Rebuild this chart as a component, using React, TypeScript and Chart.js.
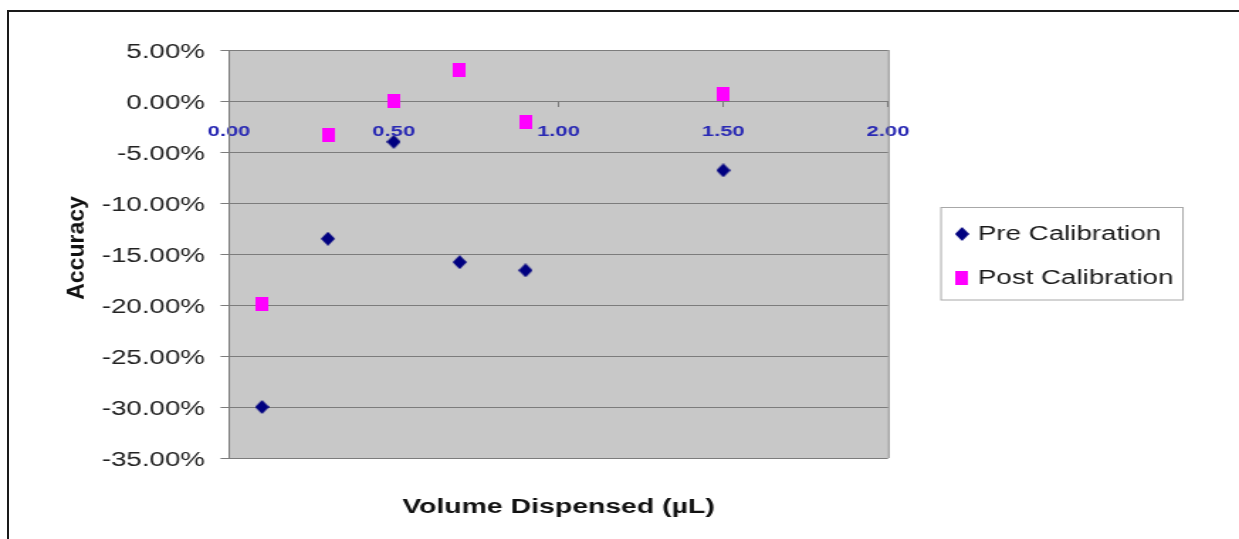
import React, { useEffect, useRef } from 'react';
import { Chart, registerables } from 'chart.js';

Chart.register(...registerables);

// ---- data ----
const volumes = [0.1, 0.3, 0.5, 0.7, 0.9, 1.5];
const preCalibration = [-30.0, -13.5, -4.0, -15.8, -16.6, -6.8];
const postCalibration = [-19.9, -3.3, 0.0, 3.0, -2.1, 0.7];
const seriesLabels = ['Pre Calibration', 'Post Calibration'];
const yRange = [-35, 5];
const yStep = 5;
const xRange = [0, 2];
const xStep = 0.5;
const xTitle = 'Volume Dispensed (µL)';
const yTitle = 'Accuracy';

// ---- layout / style ----
const PAGE_W = 1239;
const PAGE_H = 539;
const LOGICAL_W = 873;
const SX = PAGE_W / LOGICAL_W;
const FONT = '"Liberation Sans", Arial, Helvetica, sans-serif';
const PRE_COLOR = '#000080';
const POST_COLOR = '#ff00ff';
const GRID = '#7c7c7c';
const PLOT_BG = '#c8c8c8';

function makeMarker(kind: 'diamond' | 'square', color: string): HTMLCanvasElement {
  const c = document.createElement('canvas');
  if (kind === 'diamond') {
    c.width = 10;
    c.height = 14;
    const ctx = c.getContext('2d')!;
    ctx.fillStyle = color;
    ctx.beginPath();
    ctx.moveTo(5, 0);
    ctx.lineTo(10, 7);
    ctx.lineTo(5, 14);
    ctx.lineTo(0, 7);
    ctx.closePath();
    ctx.fill();
  } else {
    c.width = 9;
    c.height = 14;
    const ctx = c.getContext('2d')!;
    ctx.fillStyle = color;
    ctx.fillRect(0, 0, 9, 14);
  }
  return c;
}

const plotBackground = {
  id: 'plotBackground',
  beforeDraw(chart: any) {
    const { ctx, chartArea } = chart;
    ctx.save();
    ctx.fillStyle = PLOT_BG;
    ctx.fillRect(chartArea.left, chartArea.top, chartArea.right - chartArea.left, chartArea.bottom - chartArea.top);
    ctx.restore();
  },
  beforeDatasetsDraw(chart: any) {
    const { ctx, chartArea } = chart;
    ctx.save();
    ctx.strokeStyle = GRID;
    ctx.lineWidth = 1;
    ctx.beginPath();
    ctx.moveTo(chartArea.right + 0.5, chartArea.top);
    ctx.lineTo(chartArea.right + 0.5, chartArea.bottom);
    ctx.stroke();
    ctx.restore();
  },
};

const legendAndTitle = {
  id: 'legendAndTitle',
  afterDraw(chart: any) {
    const { ctx } = chart;
    // y-axis title (drawn unstretched)
    ctx.save();
    ctx.translate(77 / SX, 248);
    ctx.scale(1 / SX, 1);
    ctx.rotate(-Math.PI / 2);
    ctx.fillStyle = '#111';
    ctx.font = `bold 23px ${FONT}`;
    ctx.textAlign = 'center';
    ctx.textBaseline = 'middle';
    ctx.fillText(yTitle, 0, 0);
    ctx.restore();

    // legend
    const boxL = 941 / SX;
    const boxR = 1183 / SX;
    ctx.save();
    ctx.strokeStyle = '#a8a8a8';
    ctx.lineWidth = 1;
    ctx.strokeRect(boxL, 207.5, boxR - boxL, 92.5);
    const markerX = 962 / SX;
    const textX = 978 / SX;
    const rows = [234, 278];
    ctx.font = `19.5px ${FONT}`;
    ctx.fillStyle = '#1a1a1a';
    ctx.textAlign = 'left';
    ctx.textBaseline = 'middle';
    chart.data.datasets.forEach((ds: any, i: number) => {
      const img = ds.pointStyle as HTMLCanvasElement;
      ctx.drawImage(img, markerX - img.width / 2, rows[i] - img.height / 2);
      ctx.fillText(ds.label, textX, rows[i] + 1);
    });
    ctx.restore();
  },
};

export default function App() {
  const ref = useRef<HTMLCanvasElement>(null);

  useEffect(() => {
    if (!ref.current) return;
    const diamond = makeMarker('diamond', PRE_COLOR);
    const square = makeMarker('square', POST_COLOR);
    const chart = new Chart(ref.current, {
      type: 'scatter',
      data: {
        datasets: [
          {
            label: seriesLabels[0],
            data: volumes.map((x, i) => ({ x, y: preCalibration[i] })),
            pointStyle: diamond as any,
            pointRadius: 7,
            backgroundColor: PRE_COLOR,
            borderColor: PRE_COLOR,
            showLine: false,
          },
          {
            label: seriesLabels[1],
            data: volumes.map((x, i) => ({ x, y: postCalibration[i] })),
            pointStyle: square as any,
            pointRadius: 7,
            backgroundColor: POST_COLOR,
            borderColor: POST_COLOR,
            showLine: false,
          },
        ],
      },
      options: {
        responsive: true,
        maintainAspectRatio: false,
        animation: false,
        events: [],
        layout: { padding: { left: 0, top: 50, right: LOGICAL_W - 888 / SX, bottom: 19.5 } },
        plugins: {
          legend: { display: false },
          tooltip: { enabled: false },
          title: {
            display: true,
            position: 'bottom',
            fullSize: false,
            text: xTitle,
            color: '#111',
            font: { family: FONT, size: 20, weight: 'bold' },
            padding: { top: 37.5, bottom: 0 },
          },
        },
        scales: {
          x: {
            type: 'linear',
            position: { y: 0 } as any,
            min: xRange[0],
            max: xRange[1],
            ticks: {
              stepSize: xStep,
              callback: (v: any) => Number(v).toFixed(2),
              color: '#2b2bb4',
              font: { family: FONT, size: 15.5, weight: 'bold' },
              padding: 15.5,
              maxRotation: 0,
              autoSkip: false,
            },
            grid: { drawOnChartArea: false, drawTicks: true, tickLength: 6, color: GRID },
            border: { display: false },
          },
          y: {
            type: 'linear',
            position: 'left',
            min: yRange[0],
            max: yRange[1],
            ticks: {
              stepSize: yStep,
              callback: (v: any) => Number(v).toFixed(2) + '%',
              color: '#222',
              font: { family: FONT, size: 19.5 },
              padding: 11,
              labelOffset: 2.5,
            },
            grid: { color: GRID, tickLength: 6 },
            border: { display: true, color: GRID },
            afterFit: (s: any) => {
              s.width = 229 / SX;
            },
          },
        },
      },
      plugins: [plotBackground, legendAndTitle],
    });
    return () => chart.destroy();
  }, []);

  return (
    <div style={{ position: 'absolute', left: 0, top: 0, width: PAGE_W, height: PAGE_H, overflow: 'hidden', background: '#fff' }}>
      <div
        style={{
          position: 'absolute',
          left: 0,
          top: 0,
          width: LOGICAL_W,
          height: PAGE_H,
          transform: `scaleX(${SX})`,
          transformOrigin: '0 0',
        }}
      >
        <canvas ref={ref} />
      </div>
      <div
        style={{
          position: 'absolute',
          left: 7,
          top: 10,
          width: PAGE_W,
          height: PAGE_H,
          borderTop: '2px solid #1a1a1a',
          borderLeft: '2px solid #1a1a1a',
          boxSizing: 'border-box',
          pointerEvents: 'none',
        }}
      />
    </div>
  );
}
